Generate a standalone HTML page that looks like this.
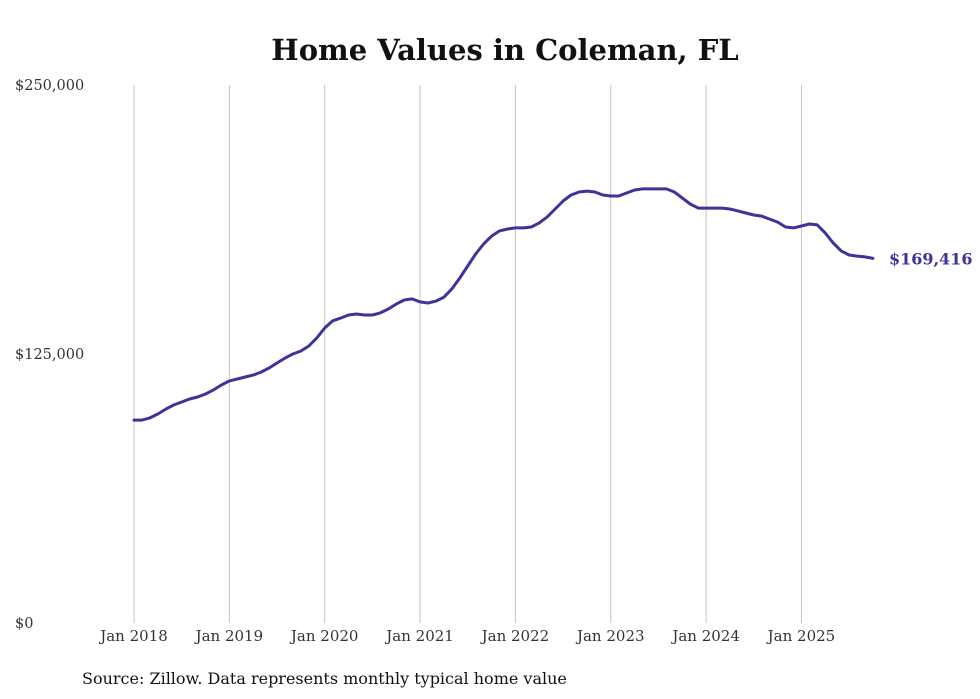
<!DOCTYPE html>
<html><head><meta charset="utf-8"><style>
body{margin:0;background:#fff}
svg{display:block}
text{font-family:"DejaVu Serif","Liberation Serif",serif}
</style></head><body>
<svg id="chart" width="980" height="699">
<text x="505" y="60" text-anchor="middle" font-size="29" font-weight="bold" fill="#111">Home Values in Coleman, FL</text>
<g id="grid"></g><g id="yaxis"></g><g id="xaxis"></g><g id="series"></g>
<text x="82" y="684" font-size="16" fill="#111">Source: Zillow. Data represents monthly typical home value</text>
</svg>
<script>
const values=[94300,94300,95300,97100,99400,101300,102700,104100,105000,106400,108300,110600,
112500,113400,114300,115200,116600,118500,120800,123100,125000,126400,128700,132500,
137100,140400,141700,143100,143600,143100,143100,144100,145900,148200,150100,150600,
149200,148700,149600,151400,155200,160300,165900,171500,176100,179800,182200,183100,
183600,183600,184000,185900,188700,192400,196100,198900,200300,200700,200300,198900,
198400,198400,199800,201200,201700,201700,201700,201700,200300,197500,194700,192800,
192800,192800,192800,192400,191500,190500,189600,189100,187700,186300,184000,183600,
184500,185400,185000,181200,176600,172900,171000,170500,170100,169416];
const startYear=2018;
const xTickLabels=["Jan 2018","Jan 2019","Jan 2020","Jan 2021","Jan 2022","Jan 2023","Jan 2024","Jan 2025"];
const yTicks=[0,125000,250000];
const yTickLabels=["$0","$125,000","$250,000"];
const lastLabel="$169,416";
const ns="http://www.w3.org/2000/svg";
const x=i=>134+i*(95.35/12);
const y=v=>623-v/250000*538;
function mk(tag,attrs,parent){const e=document.createElementNS(ns,tag);for(const k in attrs)e.setAttribute(k,attrs[k]);parent.appendChild(e);return e;}
const grid=document.getElementById('grid'),xa=document.getElementById('xaxis'),ya=document.getElementById('yaxis'),se=document.getElementById('series');
xTickLabels.forEach((t,k)=>{
 const gx=x(k*12);
 const l=mk('line',{x1:gx,x2:gx,y1:85,y2:623,stroke:'#c4c4c4','stroke-width':1},grid);
 
 
 const tx=mk('text',{x:gx,y:641,'text-anchor':'middle','font-size':15,fill:'#333'},xa);
 tx.textContent=t;
 
 
});
yTicks.forEach((v,k)=>{
 const tx=mk('text',{x:15,y:y(v)+5,'font-size':14.5,fill:'#333'},ya);
 tx.textContent=yTickLabels[k];
 
 
});
const d=values.map((v,i)=>(i?'L':'M')+x(i).toFixed(1)+','+y(v).toFixed(1)).join('');
const p=mk('path',{d:d,fill:'none',stroke:'#3b3597','stroke-width':3,'stroke-linejoin':'round','stroke-linecap':'round'},se);


const li=values.length-1;
const lt=mk('text',{x:x(li)+16,y:y(values[li])+6,'font-size':16,'font-weight':'bold',fill:'#3b3597'},se);
lt.textContent=lastLabel;


</script>
</body></html>
